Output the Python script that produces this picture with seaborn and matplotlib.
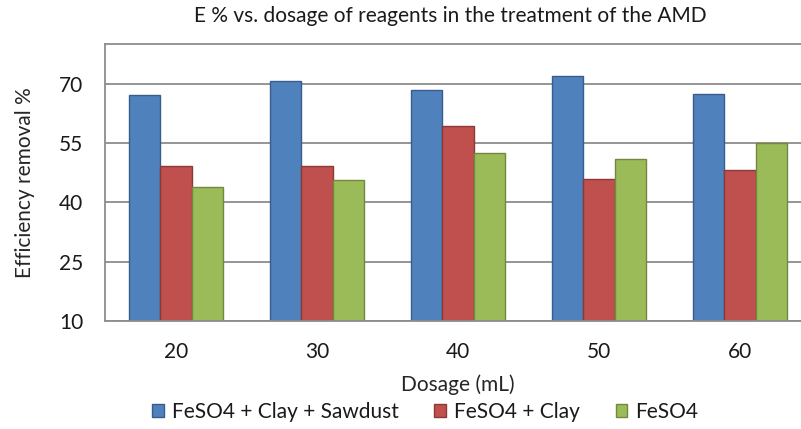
import matplotlib
matplotlib.use("Agg")
import matplotlib.pyplot as plt
import numpy as np
import pandas as pd
import seaborn as sns

# values
dosages = ["20", "30", "40", "50", "60"]
series_names = ["FeSO4 + Clay + Sawdust", "FeSO4 + Clay", "FeSO4"]
clay_sawdust = [67.3, 70.8, 68.5, 71.9, 67.5]
clay = [49.2, 49.1, 59.3, 46.0, 48.1]
feso4 = [44.0, 45.8, 52.5, 51.1, 55.0]
y_ticks = [10, 25, 40, 55, 70]

fill_colors = ["#4F81BD", "#C0504D", "#9BBB59"]
edge_colors = ["#385D8A", "#8C3836", "#71893F"]

rows = []
for name, vals in zip(series_names, [clay_sawdust, clay, feso4]):
    for d, v in zip(dosages, vals):
        rows.append({"Dosage": d, "Series": name, "Efficiency": v})
df = pd.DataFrame(rows)

sns.set_style("white")
plt.rcParams["font.family"] = ["Lato", "DejaVu Sans"]
plt.rcParams["text.color"] = "#1a1a1a"
fs = 15

fig = plt.figure(figsize=(8.01, 4.29), dpi=100)
# plot area runs past the right edge in the reference
ax = fig.add_axes([0.1317, 0.2517, 0.880, 0.645])

ax.yaxis.grid(True, color="#8c8c8c", linewidth=1.3)
ax.set_axisbelow(True)

sns.barplot(data=df, x="Dosage", y="Efficiency", hue="Series", order=dosages,
            hue_order=series_names, palette=fill_colors, width=0.67, gap=0,
            saturation=1, ax=ax, legend=False)

for cont, ec in zip(ax.containers, edge_colors):
    for bar in cont:
        bar.set_edgecolor(ec)
        bar.set_linewidth(1.0)

ax.set_ylim(10, 80)
ax.set_yticks(y_ticks)
ax.set_xlim(-0.5, 4.5)
ax.tick_params(axis="both", length=0, labelsize=fs, colors="#1a1a1a")
ax.tick_params(axis="x", pad=15)
ax.tick_params(axis="y", pad=16)

for side in ["left", "bottom", "top", "right"]:
    ax.spines[side].set_color("#8c8c8c")
    ax.spines[side].set_linewidth(1.3)

ax.set_xlabel("Dosage (mL)", fontsize=fs, labelpad=9)
ax.set_ylabel("Efficiency removal %", fontsize=fs, labelpad=17)
fig.text(0.562, 0.963, "E % vs. dosage of reagents in the treatment of the AMD",
         ha="center", va="center", fontsize=fs)

handles = [plt.Rectangle((0, 0), 1, 1, facecolor=fc, edgecolor=ec)
           for fc, ec in zip(fill_colors, edge_colors)]
fig.legend(handles, series_names, loc="center", bbox_to_anchor=(0.531, 0.040),
           ncol=3, frameon=False, fontsize=fs, handlelength=0.55,
           handleheight=0.55, handletextpad=0.4, columnspacing=1.7,
           borderpad=0, borderaxespad=0)

fig.savefig("out.png", dpi=100)
